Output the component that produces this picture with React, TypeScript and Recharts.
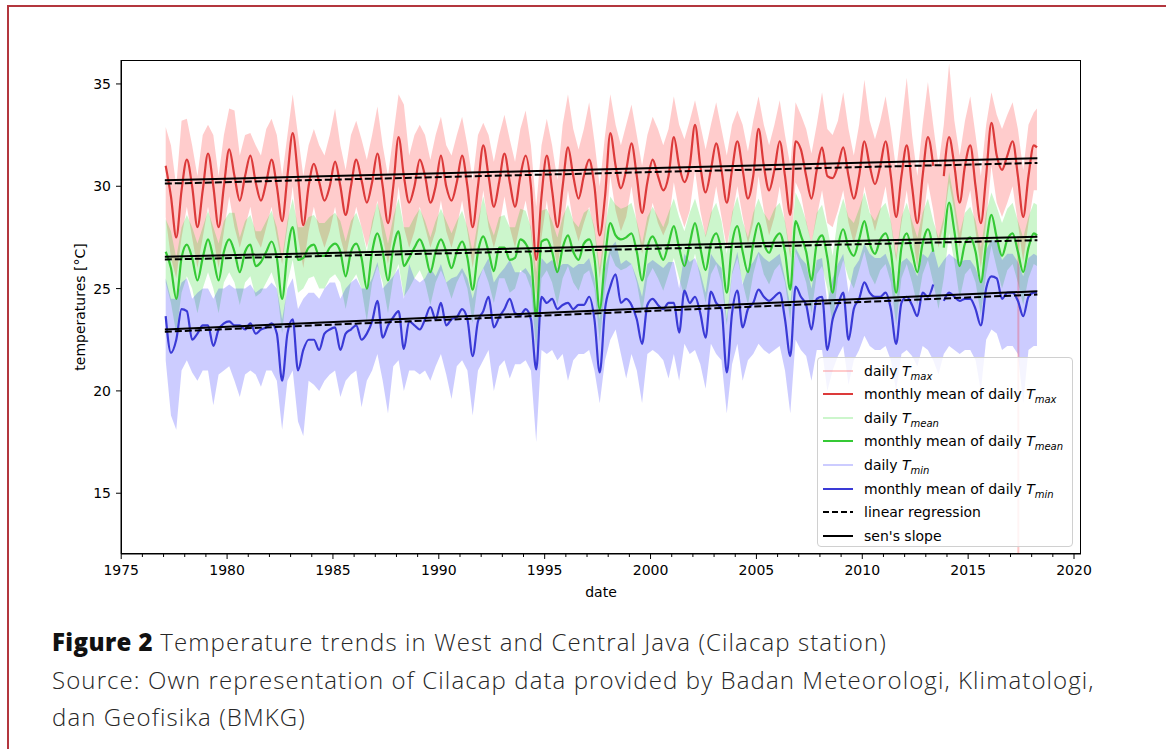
import { ComposedChart, Area, Line, XAxis, YAxis } from "recharts";

// quarterly sampling: peak season (.1), falling (.35), trough (.6), rising (.85)
const years = Array.from({ length: 41 }, (_, i) => 1977 + i);
const dates = [...years.flatMap((y) => [y + 0.1, y + 0.35, y + 0.6, y + 0.85]), 2018.1, 2018.25];

const xMajorTicks = [1975, 1980, 1985, 1990, 1995, 2000, 2005, 2010, 2015, 2020];
const xMinorTicks = Array.from({ length: 46 }, (_, i) => 1975 + i);
const yTicks = [15, 20, 25, 30, 35];

// monthly mean of daily Tmax
const tmaxMonthly = [
  31.0, 29.5, 27.5, 29.8, 31.3, 30.0, 28.0, 29.8, 31.6, 30.0, 28.0, 30.0,
  31.8, 30.5, 29.3, 30.5, 31.5, 30.2, 29.3, 30.2, 31.3, 30.0, 28.3, 30.5,
  32.6, 30.5, 28.1, 30.0, 31.1, 30.2, 29.3, 30.0, 31.2, 30.0, 28.6, 30.0,
  31.3, 30.3, 29.2, 30.2, 31.6, 30.0, 28.2, 30.0, 32.4, 30.5, 29.2, 30.0,
  31.3, 30.5, 29.2, 30.0, 31.5, 30.0, 29.3, 30.2, 31.5, 30.0, 28.0, 30.0,
  32.0, 30.5, 29.0, 30.2, 31.6, 30.2, 29.0, 30.5, 31.5, 30.0, 26.4, 29.5,
  31.5, 29.8, 28.0, 30.0, 31.9, 30.5, 29.4, 30.5, 31.3, 30.0, 27.6, 29.5,
  32.6, 31.0, 29.9, 30.8, 32.1, 30.5, 28.7, 30.2, 31.3, 30.5, 29.8, 30.5,
  32.4, 31.0, 30.2, 31.0, 33.0, 31.0, 29.7, 30.8, 32.1, 30.8, 29.2, 30.8,
  32.2, 30.8, 29.4, 30.5, 32.8, 31.0, 29.8, 30.8, 32.2, 30.5, 28.6, 32.2,
  31.8, 30.5, 29.4, 30.8, 31.9, 30.5, 30.4, 31.0, 31.9, 30.5, 29.4, 30.5,
  32.2, 31.0, 30.1, 31.0, 32.2, 30.5, 28.5, 30.5, 32.0, 30.0, 28.2, 30.5,
  32.4, 31.0, null, 30.5, 32.4, 31.0, 29.2, 31.0, 32.0, 30.0, 28.2, 30.5,
  33.1, 31.5, 30.8, 31.5, 32.2, 30.5, 28.5, 30.5, 32.0, 31.9,
];

// monthly mean of daily Tmean
const tmeanMonthly = [
  26.8, 26.0, 24.5, 26.5, 27.15, 26.5, 25.4, 26.5, 27.4, 26.5, 25.4, 26.8,
  27.4, 26.8, 25.8, 26.8, 27.15, 26.1, 26.3, 26.8, 27.3, 26.5, 24.5, 26.8,
  28.0, 26.4, 26.5, 27.0, 27.15, 26.6, 26.6, 27.0, 27.2, 26.8, 25.6, 26.8,
  27.2, 26.5, 25.0, 26.8, 27.7, 26.8, 25.4, 27.0, 27.8, 26.1, 26.5, 27.0,
  27.4, 26.8, 25.8, 26.8, 27.4, 26.8, 26.0, 26.8, 27.3, 26.5, 24.95, 26.8,
  27.55, 26.8, 25.85, 27.0, 27.0, 26.4, 26.5, 27.4, 27.2, 26.5, 23.65, 27.3,
  27.4, 26.8, 25.8, 27.0, 27.6, 26.8, 26.4, 27.2, 27.4, 26.5, 24.0, 26.5,
  28.2, 27.6, 27.4, 27.5, 27.7, 26.8, 25.4, 27.0, 27.55, 27.0, 26.4, 27.2,
  28.05, 27.0, 26.1, 27.2, 28.2, 27.0, 25.9, 27.2, 27.7, 26.8, 24.8, 27.2,
  28.05, 26.8, 25.8, 27.2, 28.2, 27.2, 26.75, 27.4, 27.7, 26.8, 24.95, 28.3,
  27.6, 26.8, 25.4, 27.2, 27.6, 26.5, 24.8, 27.0, 27.9, 27.0, 26.6, 27.4,
  28.3, 27.2, 26.7, 27.4, 27.7, 26.8, 24.8, 27.0, 27.7, 26.8, 25.8, 27.2,
  27.9, 26.8, null, 27.0, 29.2, 27.8, 26.1, 27.2, 27.5, 26.8, 25.3, 27.2,
  28.6, 27.5, 26.6, 27.4, 27.7, 26.8, 25.8, 27.0, 27.7, 27.6,
];

// monthly mean of daily Tmin
const tminMonthly = [
  23.65, 21.86, 22.5, 24.0, 23.9, 22.5, 22.8, 23.2, 23.2, 22.2, 23.0, 23.3,
  23.4, 23.2, 23.2, 23.0, 23.3, 22.8, 23.0, 23.1, 23.3, 22.8, 20.5, 22.8,
  23.5, 21.0, 22.0, 22.5, 22.5, 22.0, 22.8, 23.0, 23.1, 22.0, 22.8, 23.0,
  23.2, 22.5, 22.8, 23.4, 24.4, 22.6, 23.2, 23.6, 23.9, 22.05, 23.4, 23.2,
  23.0, 23.5, 24.1, 23.5, 24.3, 23.2, 23.5, 23.6, 24.0, 23.5, 21.7, 23.4,
  23.9, 24.6, 23.1, 23.6, 24.0, 24.5, 23.8, 23.7, 24.0, 23.5, 21.05, 24.6,
  24.3, 24.5, 24.0, 24.2, 24.3, 24.0, 24.2, 24.2, 24.6, 23.5, 20.9, 24.0,
  25.1, 25.7, 24.3, 24.5, 24.2, 23.5, 22.3, 24.2, 24.5, 24.2, 24.0, 24.3,
  24.3, 22.85, 24.9, 24.3, 24.6, 23.8, 22.6, 24.85, 24.3, 24.0, 20.9, 23.8,
  24.9, 23.1, 24.0, 24.3, 24.95, 24.6, 24.4, 24.6, 24.8, 23.5, 21.7, 25.1,
  24.6, 24.2, 23.0, 24.5, 24.6, 22.0, 23.5, 24.2, 24.8, 22.5, 24.0, 24.5,
  25.3, 24.8, 24.6, 24.6, 24.8, 24.0, 22.3, 24.3, 24.6, 24.2, 23.65, 24.8,
  24.6, 25.2, null, 24.4, 24.8, 24.6, 24.4, 24.5, 24.5, 24.0, 23.2, 25.0,
  25.6, 25.5, 24.5, 24.8, 24.8, 24.4, 23.65, 24.6, 24.8, 24.8,
];

// envelope of the daily series (upper / lower edge)
const tmaxDailyHi = [
  32.9, 32.0, 30.0, 33.2, 33.3, 32.0, 30.5, 32.5, 33.0, 32.5, 30.5, 32.5,
  33.8, 33.7, 31.5, 32.5, 32.6, 32.0, 31.5, 32.8, 33.3, 32.5, 30.5, 32.5,
  34.5, 32.5, 30.5, 32.0, 32.8, 32.0, 31.5, 32.5, 33.8, 32.0, 30.8, 32.5,
  33.2, 32.3, 31.3, 32.5, 33.9, 32.0, 30.5, 32.5, 34.5, 34.0, 31.5, 32.5,
  33.0, 32.5, 31.3, 32.5, 33.4, 32.0, 31.5, 32.5, 33.4, 32.0, 30.3, 32.5,
  33.1, 32.5, 31.2, 32.5, 33.5, 32.3, 31.2, 32.8, 33.7, 32.0, 29.0, 32.0,
  33.3, 32.0, 30.3, 33.0, 34.5, 32.8, 31.8, 32.8, 34.1, 32.2, 30.0, 32.5,
  34.5, 33.0, 32.0, 33.0, 34.0, 32.5, 31.0, 32.5, 33.4, 32.8, 32.0, 32.8,
  34.4, 33.0, 32.3, 33.2, 34.2, 33.0, 31.8, 33.0, 34.1, 32.8, 31.5, 33.0,
  33.7, 33.0, 31.7, 33.2, 34.4, 33.0, 32.0, 33.0, 34.2, 32.5, 31.0, 34.1,
  33.5, 32.8, 31.6, 33.0, 34.6, 32.8, 32.5, 33.2, 34.6, 32.8, 31.5, 33.0,
  35.2, 33.2, 32.3, 33.2, 34.4, 32.8, 30.8, 33.0, 35.3, 32.5, 30.5, 33.0,
  35.1, 33.0, 31.0, 33.0, 36.0, 33.2, 31.5, 33.2, 34.4, 32.5, 30.5, 33.0,
  34.6, 33.5, 32.8, 33.5, 34.1, 32.8, 30.8, 33.0, 33.6, 33.8,
];
const tmaxDailyLo = [
  28.5, 26.5, 25.5, 27.5, 29.0, 27.5, 26.0, 27.5, 29.0, 27.5, 26.0, 27.8,
  29.5, 28.0, 27.0, 28.0, 29.0, 27.5, 27.0, 28.0, 29.0, 27.5, 26.2, 28.0,
  30.0, 27.5, 26.0, 27.8, 29.0, 27.8, 27.0, 27.8, 29.0, 27.5, 26.5, 27.8,
  29.0, 28.0, 27.0, 28.0, 29.3, 27.5, 26.2, 27.8, 30.0, 28.0, 27.0, 27.8,
  29.0, 28.0, 27.0, 27.8, 29.3, 27.8, 27.0, 28.0, 29.3, 27.8, 26.0, 27.8,
  29.8, 28.0, 27.0, 28.0, 29.5, 28.0, 27.0, 28.2, 29.3, 27.8, 24.5, 27.5,
  29.3, 27.5, 26.0, 27.8, 29.8, 28.2, 27.3, 28.2, 29.0, 27.8, 25.5, 27.5,
  30.5, 28.8, 27.8, 28.5, 30.0, 28.2, 26.7, 28.0, 29.2, 28.2, 27.6, 28.2,
  30.2, 28.8, 28.0, 28.8, 30.8, 28.8, 27.5, 28.5, 30.0, 28.5, 27.0, 28.5,
  30.0, 28.5, 27.2, 28.2, 30.5, 28.8, 27.6, 28.5, 30.0, 28.2, 26.5, 30.2,
  29.6, 28.2, 27.2, 28.5, 29.8, 28.2, 28.0, 28.8, 29.8, 28.2, 27.2, 28.2,
  30.0, 28.8, 27.8, 28.8, 30.0, 28.2, 26.3, 28.2, 29.8, 27.8, 26.0, 28.2,
  30.2, 28.8, 27.0, 28.2, 30.2, 28.8, 27.0, 28.8, 29.8, 27.8, 26.0, 28.2,
  31.0, 29.2, 28.5, 29.2, 30.0, 28.2, 26.3, 28.2, 29.8, 29.8,
];
const tmeanDailyHi = [
  28.4, 27.8, 26.5, 28.0, 28.6, 28.0, 27.2, 28.0, 28.8, 28.0, 27.2, 28.3,
  28.7, 28.7, 27.5, 28.3, 28.6, 27.8, 27.8, 28.3, 28.8, 28.0, 26.5, 28.3,
  29.4, 28.0, 28.0, 28.5, 28.6, 28.2, 28.2, 28.5, 28.7, 28.3, 27.3, 28.3,
  28.7, 28.0, 26.8, 28.3, 29.2, 28.3, 27.2, 28.5, 29.4, 28.0, 28.0, 28.5,
  28.9, 28.3, 27.5, 28.3, 28.9, 28.3, 27.7, 28.3, 28.8, 28.0, 26.8, 28.3,
  29.5, 28.3, 27.6, 28.5, 28.6, 28.0, 28.0, 28.9, 28.8, 28.0, 25.8, 28.8,
  28.9, 28.3, 27.5, 28.5, 29.1, 28.3, 28.0, 28.7, 28.9, 28.0, 26.0, 28.0,
  29.5, 29.1, 28.9, 29.0, 29.2, 28.3, 27.2, 28.5, 29.0, 28.5, 28.0, 28.7,
  29.4, 28.5, 27.8, 28.7, 29.4, 28.5, 27.6, 28.7, 29.2, 28.3, 26.7, 28.7,
  29.5, 28.3, 27.5, 28.7, 29.4, 28.7, 28.3, 28.9, 29.2, 28.3, 26.8, 29.7,
  29.1, 28.3, 27.2, 28.7, 29.1, 28.0, 26.6, 28.5, 29.4, 28.5, 28.2, 28.9,
  29.7, 28.7, 28.3, 28.9, 29.2, 28.3, 26.6, 28.5, 29.2, 28.3, 27.5, 28.7,
  29.4, 28.3, 27.5, 28.5, 30.7, 29.3, 27.7, 28.7, 29.0, 28.3, 27.0, 28.7,
  29.7, 29.0, 28.2, 28.9, 29.2, 28.3, 27.5, 28.5, 29.2, 29.1,
];
const tmeanDailyLo = [
  25.3, 24.3, 22.8, 24.8, 25.6, 25.0, 23.8, 25.0, 25.8, 25.0, 23.8, 25.3,
  25.8, 25.3, 24.2, 25.3, 25.6, 24.6, 24.8, 25.3, 25.8, 25.0, 22.8, 25.3,
  26.4, 24.8, 25.0, 25.5, 25.6, 25.0, 25.0, 25.5, 25.7, 25.3, 24.0, 25.3,
  25.7, 25.0, 23.4, 25.3, 26.1, 25.3, 23.8, 25.5, 26.2, 24.6, 25.0, 25.5,
  25.9, 25.3, 24.2, 25.3, 25.9, 25.3, 24.5, 25.3, 25.8, 25.0, 23.3, 25.3,
  26.0, 25.3, 24.3, 25.5, 25.5, 24.8, 25.0, 25.9, 25.7, 25.0, 22.0, 25.5,
  25.9, 25.3, 24.2, 25.5, 26.1, 25.3, 24.9, 25.7, 25.9, 25.0, 22.4, 25.0,
  26.7, 26.1, 25.9, 26.0, 26.2, 25.3, 23.8, 25.5, 26.0, 25.5, 24.9, 25.7,
  26.5, 25.5, 24.6, 25.7, 26.7, 25.5, 24.3, 25.7, 26.2, 25.3, 23.2, 25.7,
  26.5, 25.3, 24.2, 25.7, 26.7, 25.7, 25.2, 25.9, 26.2, 25.3, 23.4, 26.8,
  26.1, 25.3, 23.8, 25.7, 26.1, 25.0, 23.2, 25.5, 26.4, 25.5, 25.0, 25.9,
  26.8, 25.7, 25.2, 25.9, 26.2, 25.3, 23.2, 25.5, 26.2, 25.3, 24.2, 25.7,
  26.4, 25.3, 24.0, 25.5, 27.7, 26.3, 24.5, 25.7, 26.0, 25.3, 23.7, 25.7,
  27.1, 26.0, 25.0, 25.9, 26.2, 25.3, 24.2, 25.5, 26.2, 26.1,
];
const tminDailyHi = [
  25.5, 24.5, 24.5, 25.3, 25.5, 24.5, 24.8, 25.0, 25.0, 24.5, 25.0, 25.0,
  25.2, 25.0, 25.0, 25.0, 25.2, 24.8, 25.0, 25.0, 25.3, 25.0, 23.5, 25.0,
  25.5, 24.0, 24.5, 24.8, 24.8, 24.5, 25.0, 25.3, 25.3, 24.5, 25.0, 25.3,
  25.5, 25.0, 25.0, 25.5, 26.3, 25.0, 25.3, 25.6, 26.0, 24.5, 26.2, 25.5,
  25.3, 25.5, 26.0, 25.6, 26.2, 25.3, 25.5, 25.6, 26.0, 25.5, 24.5, 25.5,
  26.0, 26.5, 25.3, 25.7, 26.0, 26.4, 25.8, 25.8, 26.0, 25.6, 23.5, 26.5,
  26.2, 26.4, 26.0, 26.2, 26.2, 26.0, 26.2, 26.2, 26.5, 25.5, 23.5, 26.0,
  27.0, 27.3, 26.2, 26.4, 26.2, 25.5, 24.6, 26.2, 26.4, 26.2, 26.0, 26.3,
  26.3, 25.0, 26.7, 26.3, 26.5, 25.8, 24.8, 26.7, 26.3, 26.0, 23.5, 25.8,
  26.8, 25.2, 26.0, 26.3, 26.8, 26.5, 26.3, 26.5, 26.7, 25.5, 24.2, 27.0,
  26.5, 26.2, 25.0, 26.4, 26.5, 24.3, 25.5, 26.2, 26.7, 24.8, 26.0, 26.4,
  27.2, 26.7, 26.5, 26.5, 26.7, 26.0, 24.5, 26.3, 26.5, 26.2, 25.6, 26.7,
  26.5, 27.0, 26.0, 26.4, 26.7, 26.5, 26.3, 26.4, 26.4, 26.0, 25.2, 26.9,
  27.4, 27.3, 26.4, 26.7, 26.7, 26.3, 25.6, 26.5, 26.7, 26.6,
];
const tminDailyLo = [
  21.5, 18.8, 18.1, 21.0, 21.5, 20.9, 20.5, 21.0, 21.0, 19.3, 20.8, 21.0,
  21.2, 20.5, 19.7, 20.8, 21.0, 20.8, 20.2, 21.0, 21.0, 20.5, 18.1, 20.5,
  21.0, 18.5, 17.8, 20.5, 20.3, 20.0, 20.5, 20.8, 21.0, 19.7, 20.5, 20.8,
  21.0, 19.2, 20.5, 21.0, 21.8, 20.5, 18.9, 21.2, 21.5, 20.0, 21.0, 21.0,
  20.8, 21.0, 20.5, 21.2, 21.8, 20.8, 19.6, 21.2, 21.5, 21.0, 18.8, 21.0,
  21.5, 22.0, 20.0, 21.2, 21.5, 20.6, 21.3, 21.3, 21.5, 21.0, 17.5, 22.0,
  21.8, 22.0, 21.5, 21.8, 20.5, 21.5, 21.8, 21.8, 22.0, 21.0, 19.4, 21.5,
  22.5, 23.0, 21.8, 20.6, 21.8, 21.0, 19.4, 21.8, 22.0, 21.8, 21.5, 20.6,
  21.8, 20.5, 22.3, 21.8, 22.0, 21.3, 20.1, 22.3, 21.8, 21.5, 18.9, 21.3,
  22.3, 20.5, 21.5, 21.8, 22.3, 22.0, 21.8, 22.0, 22.2, 21.0, 18.9, 22.5,
  22.0, 21.7, 20.5, 22.0, 22.0, 20.0, 21.0, 21.7, 22.2, 20.3, 21.5, 22.0,
  22.7, 22.2, 22.0, 22.0, 22.2, 21.5, 20.0, 21.8, 22.0, 21.7, 21.2, 22.2,
  22.0, 21.5, 20.8, 21.8, 22.2, 22.0, 21.8, 22.0, 22.0, 21.5, 20.0, 22.5,
  23.0, 22.8, 22.0, 22.2, 22.2, 21.8, 19.4, 22.0, 22.2, 22.2,
];

// trend lines (sen's slope solid, linear regression dashed), endpoints of the record
const trendDates = [1977.06, 2018.27];
const senTmax = [30.29, 31.37];
const linTmax = [30.13, 31.14];
const senTmean = [26.56, 27.53];
const linTmean = [26.42, 27.36];
const senTmin = [23.0, 24.87];
const linTmin = [22.89, 24.71];

// one broken Tmax reading dropping below the axis
const outlierDates = [2017.37, 2017.37];
const outlierValues = [27.5, 10.0];

const range = (lo: (number | null)[], hi: (number | null)[], i: number) =>
  lo[i] == null || hi[i] == null ? null : [lo[i], hi[i]];

const data = dates.map((x, i) => ({
  x,
  tmax: tmaxMonthly[i],
  tmean: tmeanMonthly[i],
  tmin: tminMonthly[i],
  tmaxBand: range(tmaxDailyLo, tmaxDailyHi, i),
  tmeanBand: range(tmeanDailyLo, tmeanDailyHi, i),
  tminBand: range(tminDailyLo, tminDailyHi, i),
}));

const trendData = trendDates.map((x, i) => ({
  x,
  senTmax: senTmax[i],
  linTmax: linTmax[i],
  senTmean: senTmean[i],
  linTmean: linTmean[i],
  senTmin: senTmin[i],
  linTmin: linTmin[i],
}));

const outlierData = outlierDates.map((x, i) => ({ x, v: outlierValues[i] }));

const COLORS = {
  maxDaily: "rgba(255,0,0,0.2)",
  maxMonthly: "#dc3a3a",
  meanDaily: "rgba(0,210,0,0.2)",
  meanMonthly: "#35c935",
  minDaily: "rgba(0,0,255,0.2)",
  minMonthly: "#3a3ad6",
};

const FONT = "'DejaVu Sans', sans-serif";

const XTick = (props: any) => {
  const { x, y, payload } = props;
  const major = xMajorTicks.includes(payload.value);
  return (
    <g>
      <line x1={x} x2={x} y1={y} y2={y + (major ? 5 : 3)} stroke="#000" strokeWidth={1} />
      {major && (
        <text x={x} y={y + 21} textAnchor="middle" fontSize={14} fontFamily={FONT} fill="#000">
          {payload.value}
        </text>
      )}
    </g>
  );
};

const legendItems = [
  { text: "daily ", sub: "max", color: COLORS.maxDaily, dash: false },
  { text: "monthly mean of daily ", sub: "max", color: COLORS.maxMonthly, dash: false },
  { text: "daily ", sub: "mean", color: COLORS.meanDaily, dash: false },
  { text: "monthly mean of daily ", sub: "mean", color: COLORS.meanMonthly, dash: false },
  { text: "daily ", sub: "min", color: COLORS.minDaily, dash: false },
  { text: "monthly mean of daily ", sub: "min", color: COLORS.minMonthly, dash: false },
  { text: "linear regression", sub: null, color: "#000", dash: true },
  { text: "sen's slope", sub: null, color: "#000", dash: false },
];

function ChartLegend() {
  return (
    <div
      style={{
        position: "absolute",
        left: 817,
        top: 357,
        width: 256,
        height: 190,
        boxSizing: "border-box",
        border: "1px solid #d0d0d0",
        borderRadius: 4,
        background: "rgba(255,255,255,0.8)",
        fontFamily: FONT,
        fontSize: 14,
        color: "#000",
      }}
    >
      {legendItems.map((item, i) => (
        <div
          key={i}
          style={{ position: "absolute", left: 0, top: 1 + i * 23.6, height: 23, display: "flex", alignItems: "center" }}
        >
          <svg width={40} height={10} style={{ marginLeft: 4 }}>
            <line
              x1={1}
              x2={31}
              y1={5}
              y2={5}
              stroke={item.color}
              strokeWidth={2}
              strokeDasharray={item.dash ? "6 3" : undefined}
            />
          </svg>
          <span style={{ marginLeft: 2, whiteSpace: "nowrap" }}>
            {item.text}
            {item.sub && (
              <>
                <i>T</i>
                <i style={{ fontSize: 10, position: "relative", top: 4 }}>{item.sub}</i>
              </>
            )}
          </span>
        </div>
      ))}
    </div>
  );
}

export default function App() {
  return (
    <div
      style={{
        position: "absolute",
        left: 0,
        top: 0,
        width: 1166,
        height: 749,
        overflow: "hidden",
        background: "#fff",
      }}
    >
      <div
        style={{
          position: "absolute",
          left: 7,
          top: 5,
          width: 1300,
          height: 900,
          border: "2px solid #b3363e",
          boxSizing: "border-box",
        }}
      />

      <div style={{ position: "absolute", left: 0, top: 0 }}>
        <ComposedChart width={1166} height={620} data={data} margin={{ top: 60, right: 85, left: 0, bottom: 26 }}>
          <XAxis
            dataKey="x"
            type="number"
            domain={[1974.99, 2020.33]}
            allowDataOverflow
            ticks={xMinorTicks}
            interval={0}
            tickSize={0}
            tickMargin={0}
            tickLine={false}
            tick={<XTick />}
            height={40}
            axisLine={{ stroke: "#000" }}
          />
          <YAxis
            type="number"
            domain={[12.03, 36.17]}
            allowDataOverflow
            ticks={yTicks}
            width={121}
            tickSize={5}
            tickMargin={5}
            tickLine={{ stroke: "#000" }}
            axisLine={{ stroke: "#000" }}
            tick={{ fontSize: 14, fill: "#000", fontFamily: FONT }}
          />

          <Area type="linear" dataKey="tmaxBand" stroke="none" fill={COLORS.maxDaily} fillOpacity={1} isAnimationActive={false} />
          <Area type="linear" dataKey="tmeanBand" stroke="none" fill={COLORS.meanDaily} fillOpacity={1} isAnimationActive={false} />
          <Area type="linear" dataKey="tminBand" stroke="none" fill={COLORS.minDaily} fillOpacity={1} isAnimationActive={false} />
          <Line
            data={outlierData}
            dataKey="v"
            stroke="rgba(255,0,0,0.22)"
            strokeWidth={2}
            dot={false}
            isAnimationActive={false}
          />

          <Line type="monotone" dataKey="tmax" stroke={COLORS.maxMonthly} strokeWidth={2.2} dot={false} isAnimationActive={false} />
          <Line type="monotone" dataKey="tmean" stroke={COLORS.meanMonthly} strokeWidth={2.2} dot={false} isAnimationActive={false} />
          <Line type="monotone" dataKey="tmin" stroke={COLORS.minMonthly} strokeWidth={2.2} dot={false} isAnimationActive={false} />

          <Line data={trendData} dataKey="linTmax" stroke="#000" strokeWidth={2} strokeDasharray="7 3" dot={false} isAnimationActive={false} />
          <Line data={trendData} dataKey="senTmax" stroke="#000" strokeWidth={2} dot={false} isAnimationActive={false} />
          <Line data={trendData} dataKey="linTmean" stroke="#000" strokeWidth={2} strokeDasharray="7 3" dot={false} isAnimationActive={false} />
          <Line data={trendData} dataKey="senTmean" stroke="#000" strokeWidth={2} dot={false} isAnimationActive={false} />
          <Line data={trendData} dataKey="linTmin" stroke="#000" strokeWidth={2} strokeDasharray="7 3" dot={false} isAnimationActive={false} />
          <Line data={trendData} dataKey="senTmin" stroke="#000" strokeWidth={2} dot={false} isAnimationActive={false} />
        </ComposedChart>
      </div>

      {/* plot frame */}
      <div
        style={{
          position: "absolute",
          left: 121,
          top: 60,
          width: 960,
          height: 494,
          border: "1px solid #000",
          boxSizing: "border-box",
          pointerEvents: "none",
        }}
      />

      <ChartLegend />

      <div
        style={{
          position: "absolute",
          left: 80,
          top: 307,
          transform: "translate(-50%, -50%) rotate(-90deg)",
          fontFamily: FONT,
          fontSize: 14,
          whiteSpace: "nowrap",
        }}
      >
        temperatures [°C]
      </div>
      <div
        style={{
          position: "absolute",
          left: 601,
          top: 592,
          transform: "translate(-50%, -50%)",
          fontFamily: FONT,
          fontSize: 14,
        }}
      >
        date
      </div>

      <div
        style={{
          position: "absolute",
          left: 52,
          top: 623,
          fontFamily: "'Open Sans', sans-serif",
          fontSize: 24,
          fontWeight: 300,
          letterSpacing: 1.1,
          lineHeight: "37.5px",
          color: "#262626",
          whiteSpace: "nowrap",
        }}
      >
        <div>
          <b style={{ color: "#111", fontWeight: 800, letterSpacing: 0.4 }}>Figure 2</b> Temperature trends in West and Central Java (Cilacap station)
        </div>
        <div>Source: Own representation of Cilacap data provided by Badan Meteorologi, Klimatologi,</div>
        <div>dan Geofisika (BMKG)</div>
      </div>
    </div>
  );
}
